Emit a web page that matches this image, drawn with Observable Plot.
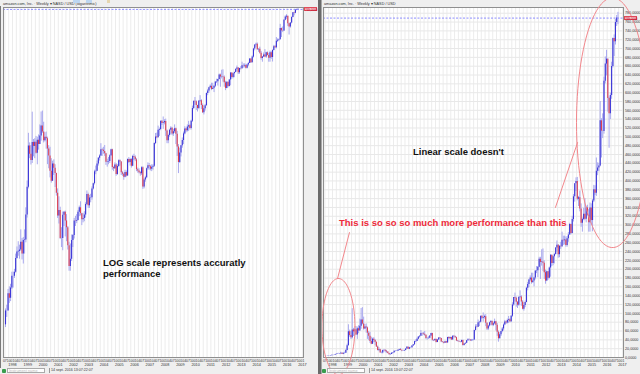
<!DOCTYPE html>
<html>
<head>
<meta charset="utf-8">
<script src="https://cdn.jsdelivr.net/npm/d3@7"></script>
<script src="https://cdn.jsdelivr.net/npm/@observablehq/plot@0.6"></script>
<style>
  body { margin: 0; background: #f0f0f0; }
  #wrap { position: relative; width: 640px; height: 374px; overflow: hidden; background: #efefef;
          font-family: "Liberation Sans", Arial, sans-serif; }
  .abs { position: absolute; }
  .hdr { position: absolute; top: 0.5px; font-size: 3.8px; color: #333; white-space: nowrap; }
  .status { position: absolute; top: 368px; font-size: 3.6px; color: #333; white-space: nowrap; }
  .inbox { position: absolute; top: 367.5px; height: 5px; width: 38px; background: #fff; border: 0.5px solid #aaa;
           font-size: 3.8px; color: #bbb; line-height: 5px; padding-left: 1px; box-sizing: border-box; white-space: nowrap; }
  .price { position: absolute; height: 4px; width: 13px; background: #ffc6ce; border: 0.5px solid #e04a5a;
           font-size: 3px; line-height: 4px; color: #b0001c; text-align: center; box-sizing: border-box; }
</style>
</head>
<body>
<div id="wrap"></div>
<script>
// ---- Data: monthly candles, amazon.com weekly chart (Jul 1997 – Sep 2016) ----
const firstMonth = 1997 + 6.5 / 12;   // mid-July 1997
const firstOpen = 2.0;
const close = [
  2.6, 2.6, 3.6, 3.3, 4.0, 5.0,
  5.0, 5.4, 7.0, 7.9, 8.0, 8.2, 9.5, 7.6, 9.8, 9.9, 15.9, 26.8,
  58.5, 50.0, 44.5, 62.5, 58.0, 62.6, 51.0, 65.0, 60.0, 70.6, 85.1, 76.1,
  64.6, 68.9, 67.0, 55.2, 48.3, 36.3, 30.1, 41.5, 38.4, 34.8, 24.0, 15.6,
  17.3, 10.2, 10.2, 15.8, 16.7, 14.2, 12.5, 8.9, 6.0, 6.9, 9.8, 10.8,
  14.2, 14.1, 14.3, 16.7, 18.2, 16.3, 14.5, 14.9, 15.9, 19.4, 23.4, 18.9,
  21.9, 22.0, 26.0, 28.7, 35.9, 36.3, 41.6, 46.3, 48.4, 54.4, 54.0, 52.6,
  50.4, 43.0, 43.3, 43.6, 48.5, 54.4, 38.9, 38.1, 40.9, 34.1, 39.7, 44.3,
  43.2, 35.2, 34.3, 32.4, 35.5, 33.1, 45.2, 42.7, 45.3, 39.9, 48.0, 47.2,
  45.0, 37.4, 36.5, 35.2, 34.6, 38.7, 27.0, 30.8, 32.1, 38.1, 40.3, 39.5,
  37.7, 39.1, 39.8, 61.3, 69.1, 68.4, 78.5, 79.9, 93.2, 89.2, 90.6, 92.6,
  77.7, 64.5, 71.3, 78.6, 81.6, 73.3, 76.3, 80.8, 72.8, 57.2, 42.7, 51.3,
  58.8, 64.8, 73.4, 80.5, 78.0, 83.7, 85.8, 81.2, 93.4, 118.8, 135.9, 134.5,
  125.4, 118.4, 135.8, 137.1, 125.5, 109.3, 117.9, 124.8, 157.1, 165.2, 175.4, 180.0,
  169.6, 173.3, 180.1, 195.8, 196.7, 204.5, 222.5, 215.0, 216.2, 213.5, 192.3, 173.1,
  194.4, 179.7, 202.5, 231.9, 212.9, 228.4, 233.3, 248.3, 254.3, 232.9, 252.0, 250.9,
  265.5, 264.3, 266.5, 253.8, 269.2, 277.7, 301.2, 281.0, 312.6, 364.0, 393.6, 398.8,
  358.7, 362.1, 336.4, 304.1, 312.6, 324.8, 313.0, 339.0, 322.4, 305.5, 338.6, 310.3,
  354.5, 380.2, 372.1, 421.8, 429.2, 434.1, 536.2, 512.9, 511.9, 625.9, 664.8, 675.9,
  587.0, 552.5, 593.6, 659.6, 722.8, 715.6, 758.8, 769.2, 769.0
];
const high = [
  2.7, 2.9, 3.9, 4.1, 4.3, 5.4,
  5.4, 5.7, 7.6, 8.7, 9.6, 9.0, 12.0, 10.2, 10.4, 12.0, 18.2, 30.2,
  74.2, 62.0, 59.0, 110.6, 66.0, 67.0, 70.0, 69.0, 72.0, 87.0, 111.0, 113.0,
  91.5, 75.0, 76.0, 69.0, 58.9, 57.0, 46.0, 43.9, 45.0, 41.0, 35.0, 26.0,
  22.4, 18.4, 12.5, 16.8, 17.0, 17.1, 16.0, 12.8, 9.5, 9.2, 10.9, 11.0,
  14.9, 15.5, 16.0, 17.3, 18.8, 20.4, 16.4, 16.4, 16.9, 20.0, 25.0, 24.0,
  23.0, 23.5, 27.0, 29.0, 37.0, 40.0, 44.0, 47.0, 49.5, 61.0, 56.0, 57.0,
  59.0, 51.0, 45.5, 47.0, 49.5, 55.0, 55.0, 39.5, 42.5, 42.0, 41.0, 45.0,
  45.0, 43.5, 36.0, 35.0, 37.0, 36.5, 45.8, 47.0, 46.0, 46.0, 49.0, 50.0,
  48.5, 46.0, 38.5, 38.0, 36.0, 39.5, 39.5, 31.5, 33.0, 38.5, 42.5, 42.0,
  40.5, 41.0, 41.0, 62.0, 74.0, 74.5, 85.0, 82.0, 93.5, 94.5, 101.0, 96.0,
  97.0, 79.0, 73.0, 80.0, 84.0, 83.0, 80.0, 87.0, 82.0, 77.0, 60.0, 56.0,
  59.0, 68.0, 76.0, 84.0, 82.0, 87.0, 93.0, 88.0, 95.0, 124.0, 136.0, 145.9,
  137.0, 126.0, 138.0, 151.0, 140.0, 129.0, 124.0, 128.0, 159.0, 170.0, 177.0, 185.0,
  191.0, 191.0, 182.0, 196.0, 206.0, 206.0, 227.0, 227.0, 244.0, 246.0, 219.0, 198.0,
  196.0, 195.0, 205.0, 233.0, 232.0, 230.0, 236.0, 249.0, 264.0, 256.0, 253.0, 261.0,
  284.0, 275.0, 275.0, 273.0, 274.0, 283.0, 304.0, 302.0, 320.0, 369.0, 394.0, 407.0,
  408.0, 365.0, 377.0, 348.0, 316.0, 338.0, 360.0, 343.0, 345.0, 335.0, 350.0, 348.0,
  358.0, 390.0, 389.0, 452.0, 441.0, 440.0, 580.0, 541.0, 552.0, 635.0, 681.0, 696.0,
  677.0, 590.0, 599.0, 669.0, 724.0, 731.0, 766.0, 775.0, 782.0
];
const low = [
  1.9, 2.3, 2.6, 3.0, 3.1, 3.9,
  4.0, 4.8, 5.3, 6.9, 7.3, 6.9, 8.0, 6.8, 6.3, 7.6, 9.4, 15.0,
  26.0, 46.0, 40.8, 42.0, 47.6, 46.0, 50.0, 41.0, 54.0, 60.0, 64.0, 74.0,
  61.9, 63.0, 55.0, 41.1, 38.0, 32.0, 29.0, 30.0, 33.5, 26.7, 22.7, 14.9,
  13.4, 10.0, 8.6, 8.1, 12.8, 10.5, 9.6, 8.2, 5.5, 5.5, 6.6, 8.6,
  10.1, 12.8, 13.5, 14.2, 15.4, 15.6, 13.0, 13.7, 14.0, 15.0, 19.0, 18.0,
  18.0, 20.0, 21.0, 25.5, 28.0, 34.0, 36.0, 40.0, 44.0, 48.0, 48.0, 50.0,
  48.0, 40.5, 39.2, 41.0, 42.0, 48.0, 37.0, 36.0, 37.5, 33.0, 33.6, 39.0,
  40.0, 33.5, 33.0, 30.6, 32.0, 32.5, 33.0, 42.0, 40.0, 38.5, 39.5, 44.5,
  43.5, 36.0, 35.0, 34.5, 33.0, 33.5, 25.8, 26.0, 29.5, 31.5, 37.0, 37.0,
  36.5, 36.0, 37.0, 39.0, 60.0, 67.0, 68.0, 70.0, 78.0, 86.0, 80.0, 87.0,
  70.0, 61.0, 61.0, 69.0, 72.0, 71.0, 70.0, 74.0, 60.0, 48.0, 34.7, 42.0,
  47.5, 56.0, 60.0, 72.0, 75.0, 76.0, 77.0, 79.0, 79.0, 91.0, 116.0, 126.0,
  114.0, 111.0, 116.0, 133.0, 116.0, 108.0, 105.0, 113.0, 124.0, 151.0, 158.0, 172.0,
  166.0, 169.0, 160.0, 176.0, 190.0, 181.0, 203.0, 177.0, 207.0, 195.0, 177.0, 166.0,
  172.0, 175.0, 178.0, 182.0, 206.0, 208.0, 212.0, 232.0, 239.0, 225.0, 226.0, 245.0,
  249.0, 254.0, 255.0, 250.0, 250.0, 261.0, 277.0, 278.0, 280.0, 307.0, 352.0, 376.0,
  355.0, 342.0, 330.0, 295.0, 284.0, 310.0, 310.0, 305.0, 320.0, 284.0, 284.0, 300.0,
  285.0, 351.0, 367.0, 365.0, 412.0, 421.0, 432.0, 452.0, 496.0, 506.0, 620.0, 638.0,
  556.0, 474.0, 539.0, 585.0, 656.0, 682.0, 708.0, 750.0, 754.0
];
const lastPrice = 769.0;
const lastPriceLabel = "769,0000";

// ---- Axis ticks / labels ----
const xDomain = [1997.41, 2017.07];
const quarterTicks = d3.range(1997.5, 2017.01, 0.25);
const quarterMonthLabels = ["01", "04", "07", "10"];
const yearTicks = d3.range(1998, 2018);
const linearTicks = d3.range(0, 781, 20);
const logDomain = [1.08, 797];
const linearDomain = [0, 793];

// ---- Annotations (in data units of the linear panel) ----
const noteEllipses = [
  {cx: 1998.39, cy: 70, rx: 1.08, ry: 109},
  {cx: 2016.35, cy: 532, rx: 2.36, ry: 283}
];
const notePointers = [
  [{x: 1998.33, y: 179}, {x: 1999.11, y: 283}],
  [{x: 2012.61, y: 340}, {x: 2014.06, y: 487}]
];

const rows = close.map((c, i) => ({
  t: firstMonth + i / 12,
  open: i === 0 ? firstOpen : close[i - 1],
  close: c, high: high[i], low: low[i]
}));

const monthFmt = d => quarterMonthLabels[Math.round((d - Math.floor(d + 1e-9)) * 4) % 4];

function baseMarks(extraBefore, extraAfter) {
  return [
    Plot.frame({fill: "#ffffff", stroke: null}),
    Plot.ruleX(quarterTicks, {stroke: "#ececec", strokeWidth: 1}),
    ...extraBefore,
    Plot.ruleX(rows, {x: "t", y1: "low", y2: "high", stroke: "#a8a8ee", strokeWidth: 1}),
    Plot.ruleX(rows.filter(d => d.close >= d.open), {x: "t", y1: "open", y2: "close", stroke: "#3a34d6", strokeWidth: 1.1}),
    Plot.ruleX(rows.filter(d => d.close < d.open), {x: "t", y1: "open", y2: "close", stroke: "#e0404e", strokeWidth: 1.1}),
    Plot.ruleY([lastPrice], {stroke: "#8c8cff", strokeDasharray: "2,1.5", strokeWidth: 1}),
    Plot.frame({stroke: "#8f8f8f"}),
    Plot.axisX({ticks: quarterTicks, tickFormat: monthFmt, tickSize: 0, tickPadding: 1.6,
                fontSize: 3.4, label: null, fill: "#333"}),
    Plot.axisX({ticks: yearTicks, tickFormat: d => String(d), tickSize: 0, tickPadding: 6,
                fontSize: 3.8, label: null, fill: "#333"}),
    ...extraAfter
  ];
}

const style = {background: "transparent", fontFamily: "Liberation Sans, Arial, sans-serif", overflow: "visible"};

const leftChart = Plot.plot({
  width: 318, height: 374,
  marginTop: 7, marginBottom: 17, marginLeft: 3, marginRight: 15,
  style,
  x: {domain: xDomain},
  y: {type: "log", domain: logDomain, axis: null},
  marks: baseMarks([], [])
});

const ellipsePts = e => d3.range(0, 361, 4).map(a => ({
  x: e.cx + e.rx * Math.cos(a * Math.PI / 180),
  y: e.cy + e.ry * Math.sin(a * Math.PI / 180)
}));

const rightChart = Plot.plot({
  width: 320, height: 374,
  marginTop: 7, marginBottom: 17, marginLeft: 3, marginRight: 17,
  style,
  x: {domain: xDomain},
  y: {domain: linearDomain},
  marks: baseMarks(
    [Plot.ruleY(linearTicks, {stroke: "#e8e8e8", strokeWidth: 1})],
    [
      Plot.axisY({anchor: "right", ticks: linearTicks, tickFormat: d => `${d},0000`, tickSize: 0,
                  tickPadding: 1.5, fontSize: 3.7, label: null, fill: "#333"}),
      ...noteEllipses.map(e => Plot.line(ellipsePts(e), {x: "x", y: "y", stroke: "#f2878c", strokeWidth: 1, curve: "linear"})),
      ...notePointers.map(p => Plot.line(p, {x: "x", y: "y", stroke: "#f2878c", strokeWidth: 1}))
    ]
  )
});

const wrap = document.getElementById("wrap");

function addDiv(cls, css, text) {
  const d = document.createElement("div");
  if (cls) d.className = cls;
  Object.assign(d.style, css);
  if (text != null) d.textContent = text;
  wrap.appendChild(d);
  return d;
}

// panels
const lp = addDiv("abs", {left: "0px", top: "0px"}); lp.appendChild(leftChart);
const rp = addDiv("abs", {left: "320px", top: "0px"}); rp.appendChild(rightChart);

// separators
addDiv("abs", {left: "0px", top: "6px", width: "1px", height: "362px", background: "#7a7a7a"});
addDiv("abs", {left: "318px", top: "0px", width: "3px", height: "374px", background: "#6a6a6a"});
addDiv("abs", {left: "321px", top: "0px", width: "1px", height: "374px", background: "#a8a8a8"});

// headers
addDiv("hdr", {left: "3px"}, "amazon.com, Inc. · Weekly ▾ NASD / USD (logarithmic)");
addDiv("hdr", {left: "324px"}, "amazon.com, Inc. · Weekly ▾ NASD / USD");
addDiv("abs", {left: "73px", top: "0px", width: "7px", height: "3px", background: "#bcd6f2"});
addDiv("abs", {left: "86px", top: "0px", width: "6px", height: "3px", background: "#bcd6f2"});
addDiv("abs", {left: "107px", top: "0px", width: "3px", height: "3px", background: "#e6d6b0"});

// price labels, placed with the charts' own y scales
const yL = leftChart.scale("y").apply(lastPrice);
const yR = rightChart.scale("y").apply(lastPrice);
addDiv("price", {left: "304px", top: (yL - 2) + "px"}, lastPriceLabel);
addDiv("price", {left: "624px", top: (yR - 2) + "px"}, lastPriceLabel);

// status bars
for (const off of [0, 320]) {
  addDiv("abs", {left: (off + 2) + "px", top: "368.5px", width: "4px", height: "4px", background: "#3a9e4e", borderRadius: "1px"});
  addDiv("inbox", {left: (off + 7) + "px"}, "Instrument name");
  addDiv("abs", {left: (off + 49) + "px", top: "367.5px", width: "0.5px", height: "5px", background: "#999"});
  addDiv("status", {left: (off + 51) + "px"}, "14 sept. 2016 13:07:22:07");
}

// annotation texts
const ns = "http://www.w3.org/2000/svg";
const ov = document.createElementNS(ns, "svg");
ov.setAttribute("width", 640); ov.setAttribute("height", 374);
Object.assign(ov.style, {position: "absolute", left: "0px", top: "0px", pointerEvents: "none"});
const notes = [
  {x: 103, y: 266, t: "LOG scale represents accuratly", c: "#111"},
  {x: 103, y: 277, t: "performance", c: "#111"},
  {x: 413, y: 155, t: "Linear scale doesn't", c: "#111"},
  {x: 339, y: 226, t: "This is so so so much more performance than this", c: "#ee2a3a"}
];
for (const n of notes) {
  const t = document.createElementNS(ns, "text");
  t.setAttribute("x", n.x); t.setAttribute("y", n.y);
  t.setAttribute("fill", n.c);
  t.setAttribute("font-family", "Liberation Sans, Arial, sans-serif");
  t.setAttribute("font-weight", "bold");
  t.setAttribute("font-size", "9.5");
  t.textContent = n.t;
  ov.appendChild(t);
}
wrap.appendChild(ov);
</script>
</body>
</html>
